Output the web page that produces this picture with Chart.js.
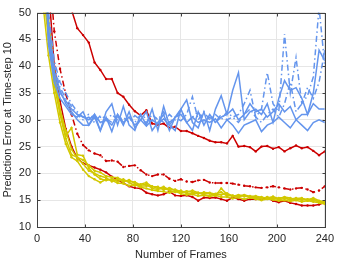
<!DOCTYPE html>
<html><head><meta charset="utf-8">
<script src="https://cdn.jsdelivr.net/npm/chart.js@4"></script>
<style>html,body{margin:0;padding:0;background:#fff}</style>
</head><body>
<canvas id="c" width="339" height="263"></canvas>
<script>
const frames = [4.8,9.6,14.4,19.2,24,28.8,33.6,38.4,43.2,48,52.8,57.6,62.4,67.2,72,76.8,81.6,86.4,91.2,96,100.8,105.6,110.4,115.2,120,124.8,129.6,134.4,139.2,144,148.8,153.6,158.4,163.2,168,172.8,177.6,182.4,187.2,192,196.8,201.6,206.4,211.2,216,220.8,225.6,230.4,235.2,240];

const redUpper = [90,80,70,62,56,50.5,47.1,45.8,44.4,40.7,39.3,37.6,37.6,35,34.3,32.8,31.6,30.8,31.8,29.3,29.1,29.3,28.5,28.7,27.9,27.9,27.5,27,26.6,26.1,25.8,25.8,25.6,27,25,25.1,24.9,24.1,25,25.1,24.6,24.9,24.1,24.7,25.2,24.7,24.9,24.2,23.4,24.1];
const redDashDot = [90,60,46.5,39.5,34.8,31,27.4,25.3,24.3,23.7,23.4,22.3,22.4,22.2,21.2,21.4,21.5,20.6,19.8,19.5,19.8,19.8,19,18.6,18.9,18.5,18.4,18.7,18.8,18.3,18.2,18.2,18.2,18.1,17.9,17.7,17.6,17.4,17.3,17.4,17.6,17.4,17.2,17,17.2,17.3,17,16.5,16.8,17.6];
const redLower = [85,55,40,33.5,28.3,25,22.8,21.9,21.5,21.1,20.7,20.2,19.4,18.8,18.2,17.6,17.3,17.2,16.4,16.1,15.9,16.1,16.6,15.9,15.8,15.9,15.6,14.9,15.5,15.4,15.5,15.2,14.9,15.5,15.2,14.9,15.2,15.2,15.2,15.5,14.9,14.6,14.9,14.5,14.3,14,14,14,14.2,14.6];

const yellowA = [55,45,36.5,31,26.5,23.5,23,22.5,21.5,20.5,20.2,19.5,19.3,19.2,18.7,18.5,18.4,17.8,18,17.2,17,17.3,16.8,16.5,16.8,16.3,16.2,16.4,16,15.9,16.2,16.5,15.8,15.9,15.6,15.9,15.5,15.4,15.6,15.3,15.5,15.1,15.3,15.2,15.4,15,15.2,14.9,14.8,14.5];
const yellowB = [58,47,38,31.5,27,28.5,23.5,23.3,21,19.8,19,18.7,19,18.5,18.9,18.3,17.7,18,18.3,17.5,17.5,16.9,17.3,16.8,16.4,16.7,16.5,16.2,16.5,16.3,15.8,17.2,16.1,15.7,16,15.7,15.8,15.5,15.3,15.6,15.2,15.4,15.5,15,15.3,15.4,14.9,15.2,14.6,14.4];
const yellowC = [52,42,35,29.5,25.5,23,22.3,20.7,19.5,18.9,18.3,18.9,18.7,18.2,18.1,17.7,17.9,17.4,17.2,16.9,16.7,16.6,16.4,16.7,16.2,16,16.1,15.8,15.9,15.7,15.9,15.6,15.6,15.3,15.5,15.2,15.5,15.2,15,15.2,15.1,14.9,15,14.8,15,14.7,14.9,14.7,14.5,14.3];
const yellowD = [60,49,39,32,28,24.5,22.8,21.8,20.5,20,19.5,19.2,18.5,19,18.4,18.8,18.1,17.6,17.7,17.6,17.2,17.5,16.9,17,16.6,16.5,16.8,16.4,16.2,16.4,16.1,16,16.3,15.8,15.8,16,15.7,15.8,15.5,15.4,15.7,15.3,15.6,15.4,15.1,15.3,15.1,15.4,14.9,14.7];

const blueA = [70,45,38,35,33.5,32,31,30.5,30,31,29.5,30,29,31,29.5,30.5,29,30,28.8,30,29.2,30.2,29,30.5,31,29.5,30.5,29.5,30,29.5,30.2,28.5,30,29,27.5,29,29.5,30,27.8,29,29.5,30.5,29.5,28.5,30,29,28,29.5,30,29.5];
const blueB = [72,47,39,35.5,33,31.5,30,29,29,31,28,31.5,33,29,32.5,29,28,31,29,32,28,32.5,29,28,32,33.7,29.5,28.5,31.5,28,32,34.5,31,35.5,38.8,30,31.5,32,31,33,29.5,34,37.3,35.5,36,34,31,35,43,41,37];
const blueC = [68,44,37,34,32.5,31,30.5,31.5,29,30.5,28,30.5,27.8,31,29,31.5,28.5,30,31.5,28,29.5,31,28,30.5,32,29.5,28,31.5,29,31,29.5,30.5,31,32,30,31,33,31.5,32,30.5,31.5,33,31.5,32.5,30,31,31,33,32,32];
const blueDashA = [75,50,41,37,35,33,31.5,30.5,31,30.3,30.5,29.8,31,30,30.5,29.5,30.8,30,29.5,31,30,31.5,29.5,30.5,29.8,31,34.3,30,31.5,30,31,30,31.5,30.5,31,33,35.5,30.5,32,38.8,33,31.5,46,35,41.6,33,34.5,38,51,40];
const blueDashB = [73,48,40,36,34,32.5,31,30,30.5,29.5,30.8,30.2,29.5,30.5,29.8,30.5,29.5,31,30.2,29.8,30.5,29.5,31,30,32,29.5,30.5,31.5,29.8,30.5,29.5,31,30,30.5,29.5,31,32,30.5,29.5,31,32,30.5,33,37,31.5,33,36,34,37,43];

const xTicks = [0,40,80,120,160,200,240];
const yTicks = [10,15,20,25,30,35,40,45,50];

const RED = '#cc0000', BLUE = '#6495ed', YEL = '#d2c800';
const DASHDOT = [6,3,1.5,3];

function ds(data, color, dash, pr) {
  return {
    data: frames.map((f, i) => ({x: f, y: data[i]})),
    borderColor: color, backgroundColor: color,
    pointBackgroundColor: color, pointBorderColor: color,
    borderWidth: 1.5, borderDash: dash || [], pointRadius: pr, pointBorderWidth: 0,
    tension: 0, fill: false
  };
}

const boxPlugin = {
  id: 'box',
  afterDatasetsDraw(chart) {
    const {ctx, chartArea: a, scales: {x, y}} = chart;
    ctx.save();
    ctx.strokeStyle = '#404040'; ctx.lineWidth = 1;
    const L = Math.round(a.left) + 0.5, R = Math.round(a.right) + 0.5, T = Math.round(a.top) + 0.5, B = Math.round(a.bottom) + 0.5;
    ctx.strokeRect(L, T, R - L, B - T);
    ctx.beginPath();
    x.ticks.forEach(t => { const p = Math.round(x.getPixelForValue(t.value)) + 0.5; ctx.moveTo(p, B); ctx.lineTo(p, B - 3); ctx.moveTo(p, T); ctx.lineTo(p, T + 3); });
    y.ticks.forEach(t => { const p = Math.round(y.getPixelForValue(t.value)) + 0.5; ctx.moveTo(L, p); ctx.lineTo(L + 3, p); ctx.moveTo(R, p); ctx.lineTo(R - 3, p); });
    ctx.stroke();
    ctx.restore();
  }
};

new Chart(document.getElementById('c'), {
  type: 'line',
  data: {
    datasets: [
      ds(blueA, BLUE, null, 0),
      ds(blueB, BLUE, null, 0),
      ds(blueC, BLUE, null, 0),
      ds(blueDashA, BLUE, DASHDOT, 0),
      ds(blueDashB, BLUE, DASHDOT, 0),
      ds(redUpper, RED, null, 1.2),
      ds(redDashDot, RED, DASHDOT, 1.2),
      ds(yellowA, YEL, null, 1.2),
      ds(yellowB, YEL, null, 1.2),
      ds(yellowC, YEL, null, 1.2),
      ds(yellowD, YEL, null, 1.2),
      ds(redLower, RED, null, 1.2)
    ]
  },
  options: {
    responsive: false, animation: false,
    layout: {padding: {left: 0, top: 7, right: 12, bottom: 0}},
    plugins: {legend: {display: false}, tooltip: {enabled: false}},
    scales: {
      x: {
        type: 'linear', min: 0, max: 240,
        afterBuildTicks: s => { s.ticks = xTicks.map(v => ({value: v})); },
        afterFit: s => { s.height = 36; },
        grid: {color: '#e6e6e6', drawTicks: false},
        border: {display: false},
        ticks: {padding: 5, color: '#262626', font: {family: 'Liberation Sans, Arial, sans-serif', size: 11}, maxRotation: 0},
        title: {display: true, text: 'Number of Frames', color: '#262626', padding: {top: 0, bottom: 1}, font: {family: 'Liberation Sans, Arial, sans-serif', size: 11}}
      },
      y: {
        min: 10, max: 50,
        afterBuildTicks: s => { s.ticks = yTicks.map(v => ({value: v})); },
        afterFit: s => { s.width = 37; },
        grid: {color: '#e6e6e6', drawTicks: false},
        border: {display: false},
        ticks: {padding: 6, color: '#262626', font: {family: 'Liberation Sans, Arial, sans-serif', size: 11}},
        title: {display: true, text: 'Prediction Error at Time-step 10', color: '#262626', padding: {top: 1, bottom: 0}, font: {family: 'Liberation Sans, Arial, sans-serif', size: 11}}
      }
    }
  },
  plugins: [boxPlugin]
});
</script>
</body></html>
